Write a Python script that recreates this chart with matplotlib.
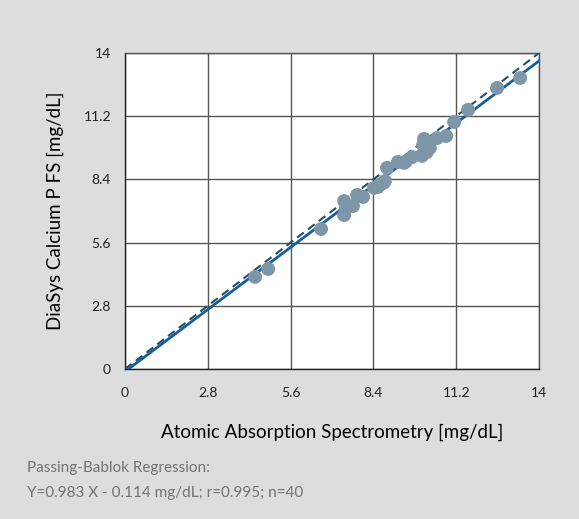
import numpy as np
import matplotlib.pyplot as plt

# reference method vs DiaSys values
aas = [4.40, 4.84, 6.63, 7.41, 7.41, 7.47, 7.71, 7.85, 8.05, 8.42, 8.55, 8.66, 8.79, 8.86,
       9.23, 9.44, 9.71, 10.04, 10.11, 10.08, 10.31, 10.55, 10.86, 11.13, 11.60, 12.58, 13.36,
       8.75, 9.50, 10.20]
diasys = [4.08, 4.43, 6.20, 7.44, 6.82, 7.13, 7.22, 7.71, 7.62, 8.02, 8.06, 8.20, 8.33, 8.91,
          9.17, 9.13, 9.39, 9.44, 10.19, 9.92, 9.79, 10.23, 10.32, 10.94, 11.48, 12.45, 12.89,
          8.25, 9.20, 9.60]
ticks = [0, 2.8, 5.6, 8.4, 11.2, 14]
tick_labels = ['0', '2.8', '5.6', '8.4', '11.2', '14']
slope = 0.983
intercept = -0.114

plt.rcParams['font.family'] = ['Lato', 'DejaVu Sans']

fig = plt.figure(figsize=(5.79, 5.19), dpi=100)
fig.patch.set_facecolor('#dcdddf')
ax = fig.add_axes([0.2159, 0.289, 0.7151, 0.609])
ax.set_facecolor('white')

xs = np.array([0, 14])
ax.plot(xs, xs, ls=(0, (4, 2.5)), color='#244f66', lw=1.5, zorder=3)
ax.plot(xs, slope * xs + intercept, color='#175d9e', lw=2, zorder=3)
ax.scatter(aas, diasys, s=100, color='#7e97a8', edgecolors='none', zorder=4)

ax.set_xlim(0, 14)
ax.set_ylim(0, 14)
ax.set_xticks(ticks)
ax.set_yticks(ticks)
ax.set_xticklabels(tick_labels, fontsize=10)
ax.set_yticklabels(tick_labels, fontsize=10)
ax.tick_params(axis='x', length=0, pad=13, colors='#222222')
ax.tick_params(axis='y', length=0, pad=10, colors='#222222')
ax.grid(True, color='#555555', lw=1)
for sp in ax.spines.values():
    sp.set_color('#555555')
    sp.set_linewidth(1)
ax.spines['bottom'].set_color('#222222')
ax.spines['left'].set_color('#222222')

ax.set_xlabel('Atomic Absorption Spectrometry [mg/dL]', fontsize=13.5, labelpad=18)
ax.set_ylabel('DiaSys Calcium P FS [mg/dL]', fontsize=13.5, labelpad=14)

fig.text(27 / 579, 1 - 468 / 519, 'Passing-Bablok Regression:', fontsize=11,
         color='#737373', va='center')
fig.text(27 / 579, 1 - 493 / 519, 'Y=0.983 X - 0.114 mg/dL; r=0.995; n=40', fontsize=11,
         color='#737373', va='center')

fig.savefig('out.png', dpi=100, facecolor=fig.get_facecolor())
